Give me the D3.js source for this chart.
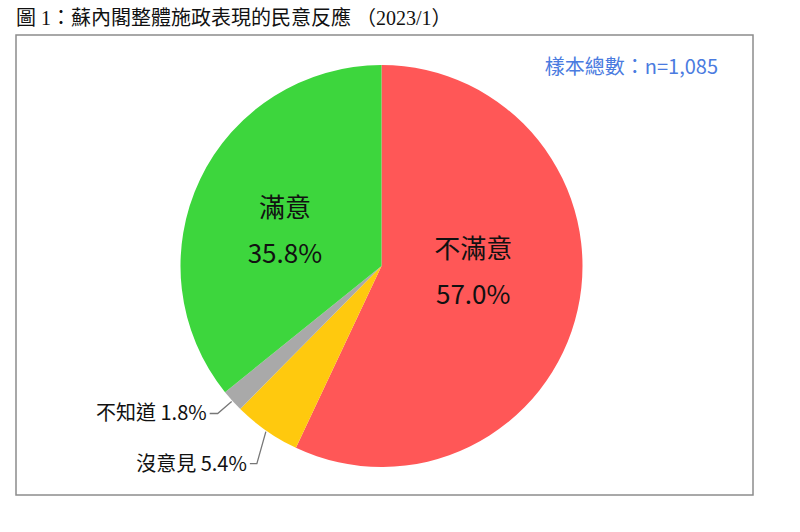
<!DOCTYPE html>
<html>
<head>
<meta charset="utf-8">
<script src="https://cdn.jsdelivr.net/npm/d3@7"></script>
<style>
  body { margin: 0; background: #fff; }
  svg { display: block; }
</style>
</head>
<body>
<div id="chart"></div>
<script>
// survey result, 2023/1
const categories = ["不滿意", "沒意見", "不知道", "滿意"];
const values = [57.0, 5.4, 1.8, 35.8];
const colors = ["#ff5757", "#ffc90e", "#a9a9a9", "#3dd63d"];
const titleText = "圖 1：蘇內閣整體施政表現的民意反應 （2023/1）";
const sampleText = "樣本總數：n=1,085";

const width = 800;
const height = 532;
const cx = 381.5;
const cy = 266;
const radius = 201;
const sans = "'Noto Sans CJK TC', 'Open Sans', sans-serif";

const svg = d3
  .select("#chart")
  .append("svg")
  .attr("width", width)
  .attr("height", height);

svg
  .append("text")
  .attr("x", 16)
  .attr("y", 25)
  .attr("font-family", "'Liberation Serif', 'Noto Sans CJK TC', serif")
  .attr("font-size", 20)
  .attr("fill", "#111")
  .text(titleText);

svg
  .append("rect")
  .attr("x", 16)
  .attr("y", 35)
  .attr("width", 737)
  .attr("height", 460)
  .attr("fill", "none")
  .attr("stroke", "#8c8c8c")
  .attr("stroke-width", 1.5);

svg
  .append("text")
  .attr("x", 718)
  .attr("y", 74)
  .attr("text-anchor", "end")
  .attr("font-family", sans)
  .attr("font-size", 20)
  .attr("fill", "#4a7be0")
  .text(sampleText);

const data = categories.map((c, i) => ({ name: c, value: values[i], color: colors[i] }));

const pie = d3
  .pie()
  .sort(null)
  .value((d) => d.value);

const arcs = pie(data);
const arc = d3.arc().innerRadius(0).outerRadius(radius);

const g = svg.append("g").attr("transform", `translate(${cx},${cy})`);

g.selectAll("path.slice")
  .data(arcs)
  .enter()
  .append("path")
  .attr("class", "slice")
  .attr("d", arc)
  .attr("fill", (d) => d.data.color);

// big labels inside the two large slices, nudged from the centroid
const inner = d3.arc().innerRadius(96).outerRadius(96);
const nudge = { "滿意": [-10, 6], "不滿意": [-2, -15] };
const big = arcs.filter((d) => d.data.value > 10);
big.forEach((d) => {
  const [x0, y0] = inner.centroid(d);
  const [nx, ny] = nudge[d.data.name];
  const x = x0 + nx;
  const y = y0 + ny;
  const lab = g.append("text")
    .attr("text-anchor", "middle")
    .attr("font-family", sans)
    .attr("fill", "#111");
  lab.append("tspan")
    .attr("x", x)
    .attr("y", y - 14)
    .attr("font-size", 26)
    .text(d.data.name);
  lab.append("tspan")
    .attr("x", x)
    .attr("y", y + 32)
    .attr("font-size", 26)
    .text(d.data.value.toFixed(1) + "%");
});

// callouts for the small slices
const edge = d3.arc().innerRadius(radius + 1).outerRadius(radius + 1);
const elbows = { "沒意見": [-9, 32, -7], "不知道": [-14, 12, -8] };
const small = arcs.filter((d) => d.data.value <= 10);
small.forEach((d) => {
  const [x0, y0] = edge.centroid(d);
  const [dx, dy, hx] = elbows[d.data.name];
  const x1 = x0 + dx;
  const y1 = y0 + dy;
  const x2 = x1 + hx;
  g.append("path")
    .attr("d", `M${x0},${y0}L${x1},${y1}L${x2},${y1}`)
    .attr("fill", "none")
    .attr("stroke", "#777")
    .attr("stroke-width", 1.3);
  g.append("text")
    .attr("x", x2 - 3)
    .attr("y", y1)
    .attr("dy", "0.35em")
    .attr("text-anchor", "end")
    .attr("font-family", sans)
    .attr("font-size", 20)
    .attr("fill", "#111")
    .text(`${d.data.name} ${d.data.value.toFixed(1)}%`);
});
</script>
</body>
</html>
